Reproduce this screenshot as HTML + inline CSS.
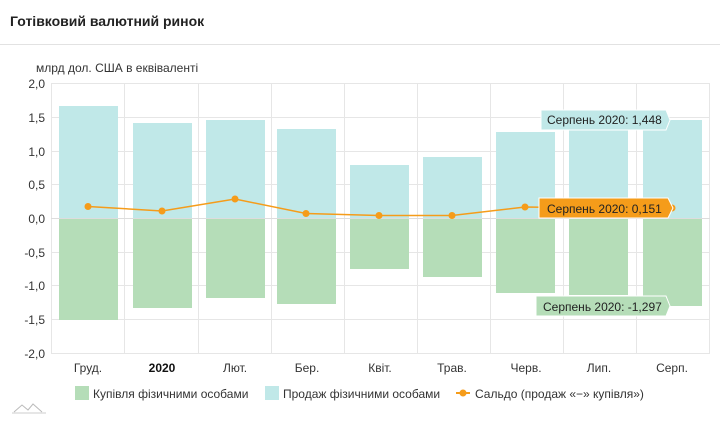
<!DOCTYPE html>
<html><head><meta charset="utf-8"><style>
body{margin:0;background:#fff;font-family:"Liberation Sans",sans-serif;}
</style></head><body>
<svg width="720" height="418" xmlns="http://www.w3.org/2000/svg" font-family="Liberation Sans, sans-serif">
<rect width="720" height="418" fill="#fff"/>
<text x="10" y="26" font-size="14" font-weight="bold" fill="#222">Готівковий валютний ринок</text>
<line x1="0" y1="44.5" x2="720" y2="44.5" stroke="#e2e2e2"/>
<text x="36" y="72" font-size="12" fill="#333">млрд дол. США в еквіваленті</text>
<g stroke="#e6e6e6" stroke-width="1">
<line x1="51" y1="83.5" x2="710" y2="83.5"/><line x1="51" y1="117.5" x2="710" y2="117.5"/>
<line x1="51" y1="151.5" x2="710" y2="151.5"/><line x1="51" y1="184.5" x2="710" y2="184.5"/>
<line x1="51" y1="285.5" x2="710" y2="285.5"/><line x1="51" y1="319.5" x2="710" y2="319.5"/>
<line x1="51" y1="252.5" x2="710" y2="252.5"/><line x1="51" y1="353.5" x2="710" y2="353.5"/>
<line x1="51.5" y1="83" x2="51.5" y2="353"/><line x1="124.5" y1="83" x2="124.5" y2="353"/>
<line x1="198.5" y1="83" x2="198.5" y2="353"/><line x1="271.5" y1="83" x2="271.5" y2="353"/>
<line x1="344.5" y1="83" x2="344.5" y2="353"/><line x1="417.5" y1="83" x2="417.5" y2="353"/>
<line x1="490.5" y1="83" x2="490.5" y2="353"/><line x1="563.5" y1="83" x2="563.5" y2="353"/>
<line x1="636.5" y1="83" x2="636.5" y2="353"/><line x1="709.5" y1="83" x2="709.5" y2="353"/>
</g>
<g font-size="12" fill="#333" text-anchor="end">
<text x="45" y="88">2,0</text><text x="45" y="122">1,5</text><text x="45" y="156">1,0</text>
<text x="45" y="189">0,5</text><text x="45" y="223">0,0</text><text x="45" y="257">-0,5</text>
<text x="45" y="290">-1,0</text><text x="45" y="324">-1,5</text><text x="45" y="358">-2,0</text>
</g>
<g fill="#c0e8e8">
<rect x="59" y="106" width="59" height="112"/>
<rect x="133" y="123" width="59" height="95"/>
<rect x="206" y="120" width="59" height="98"/>
<rect x="277" y="129" width="59" height="89"/>
<rect x="350" y="165" width="59" height="53"/>
<rect x="423" y="157" width="59" height="61"/>
<rect x="496" y="132" width="59" height="86"/>
<rect x="569" y="130" width="59" height="88"/>
<rect x="643" y="120" width="59" height="98"/>
</g>
<g fill="#b5ddb8">
<rect x="59" y="218" width="59" height="102"/>
<rect x="133" y="218" width="59" height="90"/>
<rect x="206" y="218" width="59" height="80"/>
<rect x="277" y="218" width="59" height="86"/>
<rect x="350" y="218" width="59" height="51"/>
<rect x="423" y="218" width="59" height="59"/>
<rect x="496" y="218" width="59" height="75"/>
<rect x="569" y="218" width="59" height="77"/>
<rect x="643" y="218" width="59" height="88"/>
</g>
<line x1="51" y1="218.5" x2="710" y2="218.5" stroke="#ddd"/>
<polyline fill="none" stroke="#f59c1a" stroke-width="1.5" points="88,206.5 162,211 235,199 306,213.5 379,215.5 452,215.5 525,207 598,208 672,208"/>
<g fill="#f59c1a">
<circle cx="88" cy="206.5" r="3.5"/><circle cx="162" cy="211" r="3.5"/><circle cx="235" cy="199" r="3.5"/>
<circle cx="306" cy="213.5" r="3.5"/><circle cx="379" cy="215.5" r="3.5"/><circle cx="452" cy="215.5" r="3.5"/>
<circle cx="525" cy="207" r="3.5"/><circle cx="672" cy="208" r="3.5"/>
</g>
<g font-size="12" fill="#222">
<path d="M541 110 H666 L670 120 L666 130 H541 Z" fill="#c0e8e8" stroke="#fff"/>
<text x="547" y="124">Серпень 2020: 1,448</text>
<path d="M539 198 H668 L673 208 L668 218 H539 Z" fill="#f59c1a" stroke="#fff"/>
<text x="547" y="213">Серпень 2020: 0,151</text>
<path d="M536 296 H666 L670 306 L666 316 H536 Z" fill="#b5ddb8" stroke="#fff"/>
<text x="543" y="311">Серпень 2020: -1,297</text>
</g>
<g font-size="12" fill="#333" text-anchor="middle">
<text x="88" y="372">Груд.</text><text x="162" y="372" font-weight="bold" fill="#111">2020</text>
<text x="235" y="372">Лют.</text><text x="307" y="372">Бер.</text><text x="380" y="372">Квіт.</text>
<text x="452" y="372">Трав.</text><text x="526" y="372">Черв.</text><text x="599" y="372">Лип.</text>
<text x="672" y="372">Серп.</text>
</g>
<rect x="75" y="386" width="14" height="14" fill="#b5ddb8"/>
<text x="93" y="398" font-size="12" fill="#333">Купівля фізичними особами</text>
<rect x="265" y="386" width="14" height="14" fill="#c0e8e8"/>
<text x="283" y="398" font-size="12" fill="#333">Продаж фізичними особами</text>
<line x1="456" y1="393" x2="470" y2="393" stroke="#f59c1a" stroke-width="2"/>
<circle cx="463" cy="393" r="3.5" fill="#f59c1a"/>
<text x="475" y="398" font-size="12" fill="#333">Сальдо (продаж «−» купівля»)</text>
<path d="M14 412 L22 405 L28 410 L33 404 L42 412" fill="none" stroke="#bbb" stroke-width="1"/>
<line x1="12" y1="413" x2="46" y2="413" stroke="#ccc"/>
</svg>
</body></html>
